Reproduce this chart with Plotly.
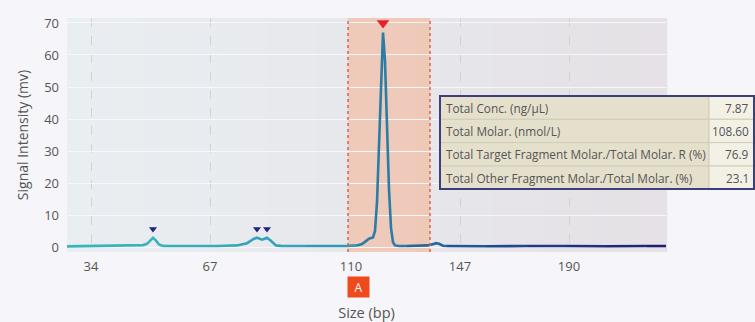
import plotly.graph_objects as go

# ---------------- data ----------------
tick_pos = [24, 143, 284, 393, 502]
tick_labels = ["34", "67", "110", "147", "190"]

sig_x = [0, 10, 20, 30, 40, 50, 60, 70, 76, 80, 83, 86, 89, 92, 96, 100, 110, 120, 130, 140,
         150, 160, 170, 176, 180, 184, 187, 190, 193, 195, 197, 200, 203, 206, 209, 214, 220,
         230, 240, 250, 260, 270, 280, 290, 295, 298, 302, 306, 308, 310, 312, 314, 316, 318,
         320, 322, 324, 326, 328, 332, 340, 350, 360, 366, 369, 372, 376, 380, 390, 400, 420,
         440, 460, 480, 500, 520, 540, 560, 580, 599]
sig_y = [0.2, 0.25, 0.2, 0.25, 0.2, 0.3, 0.3, 0.4, 0.6, 1.0, 2.0, 2.9, 2.0, 0.8, 0.35, 0.3, 0.25, 0.3, 0.25, 0.3,
         0.3, 0.35, 0.5, 0.8, 1.2, 2.0, 2.6, 2.9, 2.5, 2.3, 2.5, 2.9, 2.2, 1.2, 0.5, 0.35, 0.3,
         0.3, 0.3, 0.25, 0.3, 0.3, 0.35, 0.5, 0.9, 1.6, 2.6, 3.0, 5.0, 14, 32, 55, 67, 58,
         38, 18, 6, 1.5, 0.5, 0.3, 0.3, 0.35, 0.5, 0.9, 1.2, 1.0, 0.4, 0.3, 0.3, 0.3, 0.25,
         0.3, 0.3, 0.25, 0.3, 0.3, 0.25, 0.3, 0.3, 0.3]

minor_peak_x = [86, 190, 200]
minor_peak_y = [5.6, 5.6, 5.6]
main_peak_x = [316]
main_peak_y = [70]

region_start, region_end = 281, 363
region_label = "A"

table_labels = ["Total Conc. (ng/µL)", "Total Molar. (nmol/L)",
                "Total Target Fragment Molar./Total Molar. R (%)",
                "Total Other Fragment Molar./Total Molar. (%)"]
table_values = ["7.87", "108.60", "76.9", "23.1"]

# ---------------- styling helpers ----------------
FONT = "Open Sans"
color_stops = [(0, (60, 184, 186)), (250, (52, 160, 184)), (316, (42, 124, 166)),
               (400, (36, 84, 146)), (500, (32, 52, 130)), (599, (30, 28, 112))]


def color_at(x):
    for (x0, c0), (x1, c1) in zip(color_stops[:-1], color_stops[1:]):
        if x0 <= x <= x1:
            t = (x - x0) / (x1 - x0)
            return "rgb(%d,%d,%d)" % tuple(round(a + (b - a) * t) for a, b in zip(c0, c1))
    return "rgb(%d,%d,%d)" % color_stops[-1][1]


fig = go.Figure()

bounds = [0, 100, 170, 240, 290, 340, 380, 420, 460, 500, 540, 580, 599]
for b0, b1 in zip(bounds[:-1], bounds[1:]):
    idx = [i for i, x in enumerate(sig_x) if b0 <= x <= b1]
    fig.add_trace(go.Scatter(
        x=[sig_x[i] for i in idx], y=[sig_y[i] for i in idx], mode="lines",
        line=dict(color=color_at((b0 + b1) / 2), width=2.6), hoverinfo="skip", showlegend=False))

fig.add_trace(go.Scatter(x=minor_peak_x, y=minor_peak_y, mode="markers",
                         marker=dict(symbol="triangle-down", size=7, color="#22237a"),
                         showlegend=False))
fig.add_trace(go.Scatter(x=main_peak_x, y=main_peak_y, mode="markers",
                         marker=dict(symbol="triangle-down", size=11, color="#e8202c"),
                         showlegend=False))

shapes = []
# gradient background strips
n = 24
for i in range(n):
    t = i / (n - 1)
    c0, c1 = (233, 238, 241), (229, 225, 230)
    col = "rgb(%d,%d,%d)" % tuple(round(a + (b - a) * t) for a, b in zip(c0, c1))
    shapes.append(dict(type="rect", xref="paper", yref="paper", x0=i / n, x1=(i + 1) / n + 0.002,
                       y0=0, y1=1, fillcolor=col, line=dict(width=0), layer="below"))
# region
shapes.append(dict(type="rect", xref="x", yref="paper", x0=region_start, x1=region_end, y0=0, y1=1,
                   fillcolor="rgba(242,190,165,0.72)", line=dict(width=0), layer="between"))
for xv in (region_start, region_end):
    shapes.append(dict(type="line", xref="x", yref="paper", x0=xv, x1=xv, y0=0, y1=1,
                       line=dict(color="#e2604c", width=1.5, dash="dot"), layer="above"))

# table (paper coords)
L, T, W, H = 67, 18, 599, 234


def px(xp):
    return (xp - L) / W


def py(yp):
    return (T + H - yp) / H


tx0, tx1, tcol = 440, 754, 709
rows = [96, 119.3, 142.6, 166, 189]
for r in range(4):
    shapes.append(dict(type="rect", xref="paper", yref="paper", x0=px(tx0), x1=px(tcol),
                       y0=py(rows[r + 1]), y1=py(rows[r]), fillcolor="#e5e0cc",
                       line=dict(color="#d2ccb6", width=1), layer="above"))
    shapes.append(dict(type="rect", xref="paper", yref="paper", x0=px(tcol), x1=px(tx1),
                       y0=py(rows[r + 1]), y1=py(rows[r]), fillcolor="#f3f0e6",
                       line=dict(color="#d2ccb6", width=1), layer="above"))
shapes.append(dict(type="rect", xref="paper", yref="paper", x0=px(tx0), x1=px(tx1),
                   y0=py(rows[-1]), y1=py(rows[0]), fillcolor="rgba(0,0,0,0)",
                   line=dict(color="#3c3f7c", width=2), layer="above"))

annotations = []
for r in range(4):
    yc = py((rows[r] + rows[r + 1]) / 2)
    annotations.append(dict(xref="paper", yref="paper", x=px(tx0 + 4), y=yc, text=table_labels[r],
                            showarrow=False, xanchor="left", yanchor="middle",
                            font=dict(family=FONT, size=11.8, color="#555555")))
    annotations.append(dict(xref="paper", yref="paper", x=px(tx1 - 3), y=yc, text=table_values[r],
                            showarrow=False, xanchor="right", yanchor="middle",
                            font=dict(family=FONT, size=11.8, color="#555555")))

annotations.append(dict(xref="paper", yref="paper", x=px(358.5), y=py(287), text=region_label,
                        showarrow=False, xanchor="center", yanchor="middle", width=19, height=18,
                        bgcolor="#ef4a1c", font=dict(family=FONT, size=12, color="white")))

fig.update_layout(
    width=755, height=322,
    margin=dict(l=L, r=755 - L - W, t=T, b=322 - T - H, autoexpand=False),
    paper_bgcolor="#f6f5f9", plot_bgcolor="#e8e9ec",
    font=dict(family=FONT, size=13, color="#555555"),
    shapes=shapes, annotations=annotations, showlegend=False,
    xaxis=dict(range=[0, 599], tickvals=tick_pos, ticktext=tick_labels, showgrid=True,
               gridcolor="#d2d2d6", griddash="dash", gridwidth=1, zeroline=False, showline=False,
               ticks="", ticklabelstandoff=5, automargin=False,
               title=dict(text="Size (bp)", standoff=35, font=dict(size=14.5, color="#555555"))),
    yaxis=dict(range=[-1.56, 71.56], tickvals=[0, 10, 20, 30, 40, 50, 60, 70], showgrid=True,
               gridcolor="#f7f7f9", gridwidth=1.2, zeroline=False, showline=False, ticks="",
               ticklabelstandoff=7, automargin=False,
               title=dict(text="Signal Intensity (mv)", standoff=12, font=dict(size=14, color="#555555"))),
)

fig.write_html("out.html", config={"displayModeBar": False},
               post_script="document.body.style.margin='0';document.body.style.overflow='hidden';")
